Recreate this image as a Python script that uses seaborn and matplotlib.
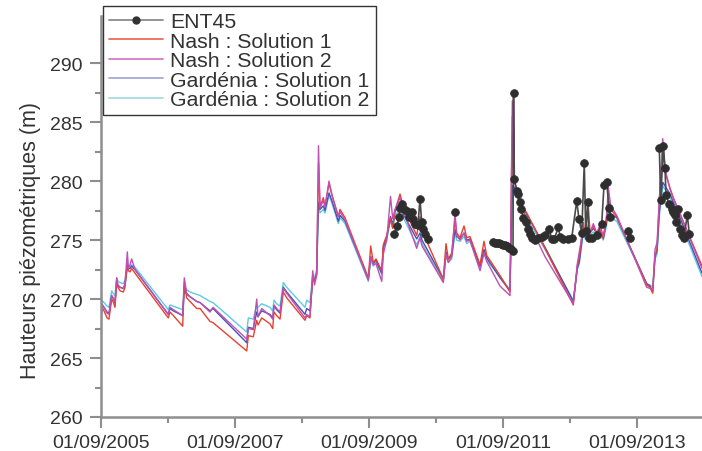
import numpy as np
import pandas as pd
import matplotlib
matplotlib.use("Agg")
import matplotlib.pyplot as plt
import matplotlib.dates as mdates
from matplotlib.lines import Line2D
from matplotlib.ticker import FixedLocator
import seaborn as sns

# ---------------- data (decimal years, heads in m) ----------------
t_sim = [2005.667, 2005.682, 2005.712, 2005.757, 2005.786, 2005.827, 2005.846, 2005.876,
         2005.901, 2005.921, 2005.951, 2006.000, 2006.025, 2006.060, 2006.077, 2006.100,
         2006.125, 2006.174, 2006.671, 2006.697, 2006.746, 2006.886, 2006.910, 2006.946,
         2006.995, 2007.095, 2007.145, 2007.294, 2007.339, 2007.842, 2007.866, 2007.940,
         2007.991, 2008.010, 2008.066, 2008.189, 2008.230, 2008.249, 2008.289, 2008.339,
         2008.388, 2008.439, 2008.712, 2008.737, 2008.786, 2008.827, 2008.854, 2008.886,
         2008.913, 2008.936, 2008.985, 2009.010, 2009.070, 2009.115, 2009.209, 2009.234,
         2009.309, 2009.657, 2009.692, 2009.731, 2009.771, 2009.857, 2009.880, 2009.931,
         2009.988, 2010.021, 2010.055, 2010.130, 2010.179, 2010.379, 2010.428, 2010.458,
         2010.776, 2010.816, 2010.851, 2010.901, 2010.951, 2010.976, 2011.025, 2011.085,
         2011.125, 2011.174, 2011.324, 2011.383, 2011.424, 2011.622, 2011.771, 2011.806,
         2011.824, 2011.871, 2011.946, 2012.021, 2012.294, 2012.716, 2012.776, 2012.806,
         2012.866, 2012.891, 2012.940, 2012.966, 2013.015, 2013.066, 2013.115, 2013.164,
         2013.215, 2013.239, 2013.274, 2013.364, 2013.812, 2013.861, 2013.901, 2013.936,
         2013.966, 2014.000, 2014.051, 2014.085, 2014.160, 2014.209, 2014.260, 2014.637]

nash_1 = [267.8, 269.3, 269.0, 268.4, 268.3, 270.0, 269.8, 269.3,
          271.3, 271.0, 270.7, 270.6, 271.0, 273.0, 272.4, 272.3,
          272.6, 272.2, 268.4, 268.9, 268.6, 267.7, 271.4, 270.1,
          269.8, 269.2, 269.2, 268.1, 268.0, 265.6, 266.9, 266.8,
          268.2, 267.8, 268.4, 267.9, 267.5, 268.9, 268.6, 268.3,
          270.6, 270.1, 268.2, 268.6, 268.4, 272.0, 271.5, 272.1,
          281.5, 277.8, 278.6, 277.9, 279.8, 278.8, 277.0, 277.6,
          276.9, 271.8, 274.5, 273.1, 273.4, 272.4, 274.6, 275.4,
          276.8, 276.0, 277.5, 278.9, 277.8, 275.4, 277.0, 275.8,
          271.7, 274.7, 273.4, 273.9, 276.8, 275.6, 275.2, 276.2,
          275.2, 275.3, 272.9, 274.9, 273.7, 272.0, 270.6, 285.5,
          280.2, 279.3, 278.0, 277.3, 274.3, 269.5, 272.8, 273.5,
          276.5, 275.4, 277.9, 275.7, 276.2, 275.5, 275.9, 275.1,
          276.8, 278.4, 277.6, 277.0, 271.2, 271.0, 270.5, 273.8,
          274.2, 278.5, 282.8, 280.8, 279.4, 278.6, 277.9, 272.8]

nash_2 = [268.2, 269.6, 269.3, 268.8, 268.7, 270.3, 270.1, 269.8,
          271.8, 271.2, 271.0, 270.9, 271.3, 274.0, 272.6, 272.9,
          273.4, 272.5, 268.7, 269.3, 269.1, 268.6, 271.8, 270.5,
          270.2, 269.8, 269.7, 268.9, 269.3, 266.6, 267.5, 267.4,
          270.0, 268.5, 269.2, 268.6, 268.3, 269.5, 269.2, 268.9,
          270.9, 270.5, 268.4, 268.7, 268.5, 272.4, 271.2, 272.0,
          283.0, 277.7, 278.4, 277.8, 280.0, 278.8, 277.0, 277.4,
          276.7, 271.6, 273.6, 272.9, 273.0, 271.5, 273.8, 275.0,
          278.7, 276.8, 277.6, 278.6, 277.5, 274.3, 275.2, 274.5,
          271.4, 273.8, 273.1, 273.6, 277.3, 275.4, 275.0, 275.6,
          274.9, 275.0, 272.4, 273.9, 273.2, 271.1, 270.3, 286.8,
          280.3, 279.2, 277.8, 276.8, 273.6, 269.6, 273.0, 274.0,
          276.0, 275.3, 276.3, 275.6, 276.4, 275.6, 276.3, 275.3,
          277.2, 279.5, 277.9, 277.1, 271.0, 270.9, 270.8, 274.2,
          274.8, 278.3, 283.6, 281.0, 279.3, 278.5, 277.9, 272.6]

gardenia_1 = [268.4, 269.5, 269.3, 268.9, 268.8, 270.3, 270.1, 269.7,
              271.5, 271.1, 271.0, 270.9, 271.2, 272.7, 272.6, 272.6,
              272.8, 272.5, 268.7, 269.2, 269.0, 268.6, 270.8, 270.4,
              270.2, 269.8, 269.7, 269.0, 269.2, 266.3, 267.6, 267.5,
              268.9, 268.5, 269.0, 268.7, 268.4, 269.4, 269.1, 268.8,
              271.0, 270.6, 268.7, 269.2, 269.0, 271.6, 271.5, 272.2,
              278.2, 277.6, 277.9, 277.5, 279.0, 278.3, 276.6, 277.1,
              276.6, 271.7, 273.6, 273.0, 273.3, 272.2, 274.4, 275.2,
              277.0, 276.3, 277.4, 278.0, 277.2, 275.1, 275.6, 275.0,
              271.7, 274.0, 273.4, 273.7, 275.9, 275.3, 275.1, 275.6,
              275.0, 275.1, 272.8, 274.2, 273.5, 271.8, 270.7, 279.6,
              279.6, 279.0, 277.9, 277.2, 274.4, 269.8, 272.6, 273.2,
              275.9, 275.3, 276.0, 275.6, 276.0, 275.6, 275.8, 275.2,
              276.7, 277.6, 277.2, 276.9, 271.3, 271.1, 270.6, 273.6,
              274.1, 277.4, 279.9, 279.6, 278.9, 278.2, 277.6, 272.2]

gardenia_2 = [268.8, 269.9, 269.7, 269.4, 269.3, 270.7, 270.5, 270.3,
              271.8, 271.5, 271.4, 271.3, 271.6, 272.9, 272.8, 272.8,
              272.9, 272.7, 269.1, 269.5, 269.4, 269.1, 271.1, 270.8,
              270.6, 270.4, 270.3, 269.8, 269.7, 267.2, 268.4, 268.3,
              269.5, 269.3, 269.6, 269.3, 269.0, 269.9, 269.6, 269.4,
              271.4, 271.0, 269.3, 269.9, 269.7, 272.0, 271.8, 272.5,
              278.0, 277.3, 277.6, 277.3, 278.8, 278.1, 276.4, 276.9,
              276.4, 271.5, 273.3, 272.8, 273.1, 272.1, 274.2, 275.0,
              276.7, 276.0, 277.0, 277.7, 276.9, 274.6, 275.3, 274.7,
              271.5, 273.7, 273.1, 273.4, 275.6, 275.0, 274.9, 275.3,
              274.7, 274.9, 272.6, 273.9, 273.3, 271.9, 270.8, 279.4,
              279.3, 278.8, 277.6, 276.9, 274.2, 269.9, 272.5, 273.0,
              275.7, 275.1, 275.8, 275.4, 275.7, 275.3, 275.5, 275.0,
              276.3, 277.3, 276.9, 276.6, 271.3, 271.2, 271.0, 273.4,
              273.8, 277.0, 279.6, 279.3, 278.6, 278.0, 277.3, 271.9]

# observed piezometer ENT45 (segment id marks gaps in the record)
t_obs = [2010.045, 2010.089, 2010.110, 2010.130, 2010.155, 2010.182, 2010.230, 2010.257,
         2010.304, 2010.331, 2010.354, 2010.398, 2010.428, 2010.453, 2010.480, 2010.503,
         2010.552,
         2010.951,
         2011.522, 2011.548, 2011.577, 2011.607, 2011.637, 2011.667, 2011.697, 2011.727,
         2011.756, 2011.786, 2011.816, 2011.824, 2011.836, 2011.871, 2011.891, 2011.921,
         2011.936, 2011.970, 2012.006, 2012.036, 2012.070, 2012.104, 2012.145, 2012.194,
         2012.245, 2012.294, 2012.358, 2012.394, 2012.433, 2012.493, 2012.518, 2012.567,
         2012.637, 2012.692, 2012.767, 2012.801, 2012.842, 2012.880, 2012.901, 2012.931,
         2012.951, 2013.000, 2013.066, 2013.140, 2013.175, 2013.215, 2013.249, 2013.264,
         2013.537, 2013.563,
         2014.000, 2014.020, 2014.060, 2014.085, 2014.100, 2014.149, 2014.185, 2014.209,
         2014.234, 2014.249, 2014.284, 2014.313, 2014.338, 2014.363, 2014.418, 2014.448]
h_obs = [275.5, 276.2, 277.0, 277.7, 278.1, 277.6, 277.5, 277.0,
         277.4, 276.8, 276.4, 276.3, 278.5, 276.5, 275.9, 275.5,
         275.1,
         277.4,
         274.80, 274.78, 274.75, 274.72, 274.68, 274.62, 274.55, 274.47,
         274.37, 274.25, 274.10, 287.5, 280.2, 279.2, 278.9, 278.2,
         277.6, 276.9, 276.5, 275.9, 275.5, 275.15, 275.0, 275.15,
         275.3, 275.4, 275.9, 275.1, 275.1, 276.1, 275.3, 275.1,
         275.1, 275.15, 278.3, 276.8, 275.6, 281.5, 275.8, 278.2,
         275.2, 275.15, 275.4, 276.35, 279.7, 279.9, 277.7, 277.0,
         275.8, 275.2,
         282.8, 278.4, 283.0, 281.1, 278.8, 278.05, 277.6, 277.4,
         277.1, 276.5, 277.6, 275.9, 275.4, 275.15, 277.1, 275.5]
seg_obs = [0] * 17 + [1] + [2] * 48 + [3] * 2 + [4] * 16

series_names = ["Nash : Solution 1", "Nash : Solution 2",
                "Gardénia : Solution 1", "Gardénia : Solution 2"]
obs_name = "ENT45"
y_label = "Hauteurs piézométriques (m)"
y_major = [260, 265, 270, 275, 280, 285, 290]
y_minor = [262.5, 267.5, 272.5, 277.5, 282.5, 287.5]
x_major = ["2005-09-01", "2007-09-01", "2009-09-01", "2011-09-01", "2013-09-01"]
x_minor = ["2006-09-01", "2008-09-01", "2010-09-01", "2012-09-01"]

# ---------------- helpers ----------------
base = pd.Timestamp("2005-09-01")


def to_date(years):
    return base + pd.to_timedelta((np.asarray(years, dtype=float) - 2005.667) * 365.25, unit="D")


line_colors = {series_names[0]: "#e8402f", series_names[1]: "#c04fb4",
               series_names[2]: "#4a4fae", series_names[3]: "#5ccbe0"}
legend_colors = ["#ee6a5c", "#d37cc8", "#a3abd8", "#a6dce3"]

df_sim = pd.concat([
    pd.DataFrame({"date": to_date(t_sim), "h": vals, "serie": name})
    for name, vals in zip(series_names, [nash_1, nash_2, gardenia_1, gardenia_2])
], ignore_index=True)
df_obs = pd.DataFrame({"date": to_date(t_obs), "h": h_obs, "seg": seg_obs})

# ---------------- figure ----------------
sns.set_style("ticks")
plt.rcParams["font.family"] = ["Liberation Sans", "DejaVu Sans"]

fig = plt.figure(figsize=(7.02, 4.52), dpi=100)
ax = fig.add_axes([101 / 702, 34 / 452, 601 / 702, 401 / 452])

draw_order = [series_names[3], series_names[2], series_names[0], series_names[1]]
sns.lineplot(data=df_sim, x="date", y="h", hue="serie", hue_order=draw_order,
             palette=line_colors, estimator=None, sort=False, linewidth=1.0,
             legend=False, ax=ax)
sns.lineplot(data=df_obs, x="date", y="h", units="seg", estimator=None, sort=False,
             color="#4a4a4a", linewidth=1.2, marker="o", markersize=5.6,
             markerfacecolor="#2e2e2e", markeredgecolor="#2e2e2e", markeredgewidth=0.5,
             legend=False, ax=ax, zorder=5)

ax.set_xlim(to_date([2005.667])[0], to_date([2014.637])[0])
ax.set_ylim(260, 294)

ax.yaxis.set_major_locator(FixedLocator(y_major))
ax.yaxis.set_minor_locator(FixedLocator(y_minor))
ax.xaxis.set_major_locator(FixedLocator(mdates.date2num(pd.to_datetime(x_major))))
ax.xaxis.set_minor_locator(FixedLocator(mdates.date2num(pd.to_datetime(x_minor))))
ax.xaxis.set_major_formatter(mdates.DateFormatter("%d/%m/%Y"))

spine_c = "#8e8e8e"
for s in ["top", "right"]:
    ax.spines[s].set_visible(False)
for s in ["left", "bottom"]:
    ax.spines[s].set_color(spine_c)
    ax.spines[s].set_linewidth(1.8)
ax.tick_params(which="major", length=8, width=1.5, color=spine_c,
               labelsize=14, labelcolor="#333333", pad=4)
ax.tick_params(which="minor", length=4.5, width=1.5, color=spine_c)
ax.tick_params(axis="y", which="major", pad=5)

ax.set_xlabel("")
ax.set_ylabel(y_label, fontsize=15.5, color="#333333")
ax.yaxis.set_label_coords(-0.10, 0.443)

handles = [Line2D([], [], color="#8a8a8a", lw=1.3, marker="o", markersize=5,
                  markerfacecolor="#333333", markeredgecolor="#333333")]
handles += [Line2D([], [], color=c, lw=1.3) for c in legend_colors]
leg = fig.legend(handles, [obs_name] + series_names, loc="upper left",
                 bbox_to_anchor=(103 / 702, 1 - 7 / 452), bbox_transform=fig.transFigure,
                 borderaxespad=0, frameon=True, fancybox=False, framealpha=1,
                 edgecolor="#333333", fontsize=15.3, handlelength=2.5,
                 handletextpad=0.35, labelspacing=0.02, borderpad=0.3,
                 numpoints=1)
leg.get_frame().set_linewidth(1.0)
for txt in leg.get_texts():
    txt.set_color("#333333")

fig.savefig("out.png", dpi=100)
